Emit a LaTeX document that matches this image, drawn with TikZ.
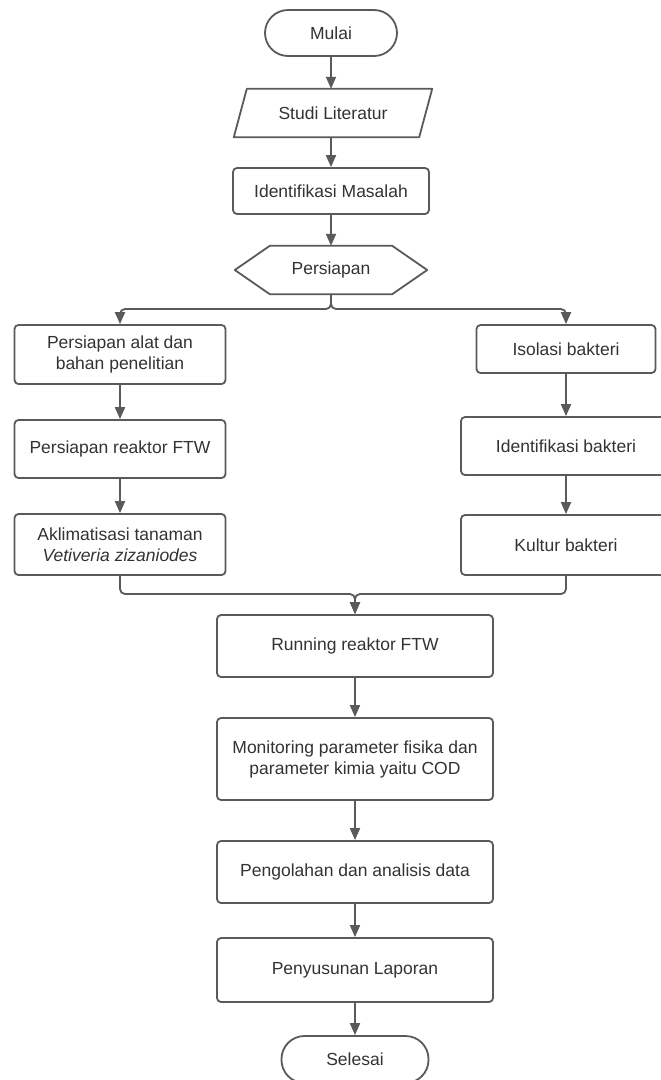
\documentclass[tikz,border=0pt]{standalone}
\usepackage{fontspec}
\setmainfont{Liberation Sans}
\usetikzlibrary{arrows.meta}
\definecolor{ln}{HTML}{5A5A5A}
\definecolor{tx}{HTML}{333333}
\begin{document}
\begin{tikzpicture}[x=1pt,y=-1pt,
  base/.style={inner sep=0pt, align=center, text=tx, font=\fontsize{17.5}{21}\selectfont},
  box/.style={base, draw=ln, line width=1.8pt, fill=white, rounded corners=4pt, rectangle},
  term/.style={base, draw=ln, line width=1.8pt, fill=white, rounded corners=23pt, rectangle, minimum width=132pt, minimum height=46pt},
  outline/.style={draw=ln, line width=1.8pt, line join=round},
  arr/.style={draw=ln, line width=1.8pt, -{Triangle[length=12pt,width=10pt]}},
]
\useasboundingbox (0,0) rectangle (661,1080);
\fill[white] (0,0) rectangle (661,1080);
\clip (0,0) rectangle (661,1080);

% top chain
\node[term] (mulai) at (331,33) {Mulai};
\node[base, minimum width=198pt, minimum height=48pt] (studi) at (333,113) {Studi Literatur};
\draw[outline] ([xshift=13pt]studi.north west) -- (studi.north east) -- ([xshift=-13pt]studi.south east) -- (studi.south west) -- cycle;
\node[box, minimum width=196pt, minimum height=46pt] (idm) at (331,191) {Identifikasi Masalah};
\node[base, minimum width=192pt, minimum height=48pt] (hex) at (331,270) {Persiapan};
\draw[outline] (hex.west) -- ([xshift=35pt]hex.north west) -- ([xshift=-35pt]hex.north east) -- (hex.east) -- ([xshift=-35pt]hex.south east) -- ([xshift=35pt]hex.south west) -- cycle;

% left column
\node[box, minimum width=211pt, minimum height=59pt] (pa) at (120,354.5) {Persiapan alat dan\\bahan penelitian};
\node[box, minimum width=211pt, minimum height=58pt] (pr) at (120,449) {Persiapan reaktor FTW};
\node[box, minimum width=211pt, minimum height=61pt] (ak) at (120,544.5) {Aklimatisasi tanaman\\\textit{Vetiveria zizaniodes}};

% right column
\node[box, minimum width=179pt, minimum height=48pt] (iso) at (566,349) {Isolasi bakteri};
\node[box, minimum width=210pt, minimum height=58pt] (idb) at (566,446) {Identifikasi bakteri};
\node[box, minimum width=210pt, minimum height=60pt] (kul) at (566,545) {Kultur bakteri};

% bottom chain
\node[box, minimum width=276pt, minimum height=62pt] (run) at (355,646) {Running reaktor FTW};
\node[box, minimum width=276pt, minimum height=82pt] (mon) at (355,759) {Monitoring parameter fisika dan\\parameter kimia yaitu COD};
\node[box, minimum width=276pt, minimum height=62pt] (peng) at (355,872) {Pengolahan dan analisis data};
\node[box, minimum width=276pt, minimum height=64pt] (peny) at (355,970) {Penyusunan Laporan};
\node[term, minimum width=147pt, minimum height=47pt] (sel) at (355,1059.5) {Selesai};

% connectors
\draw[arr] (mulai.south) -- (mulai.south |- studi.north);
\draw[arr] (idm.north |- studi.south) -- (idm.north);
\draw[arr] (idm.south) -- (hex.north);
\coordinate (split) at (331,309);
\draw[arr, rounded corners=5pt] (hex.south) -- (split) -| (pa.north);
\draw[arr, rounded corners=5pt] (hex.south) -- (split) -| (iso.north);
\draw[arr] (pa.south) -- (pr.north);
\draw[arr] (pr.south) -- (ak.north);
\draw[arr] (iso.south) -- (idb.north);
\draw[arr] (idb.south) -- (kul.north);
\coordinate (merge) at (355,594);
\draw[arr, rounded corners=5pt] (ak.south) |- (merge) -- (run.north);
\draw[arr, rounded corners=5pt] (kul.south) |- (merge) -- (run.north);
\draw[arr] (run.south) -- (mon.north);
\draw[arr] (mon.south) -- (peng.north);
\draw[arr] (peng.south) -- (peny.north);
\draw[arr] (peny.south) -- (sel.north);
\end{tikzpicture}
\end{document}
